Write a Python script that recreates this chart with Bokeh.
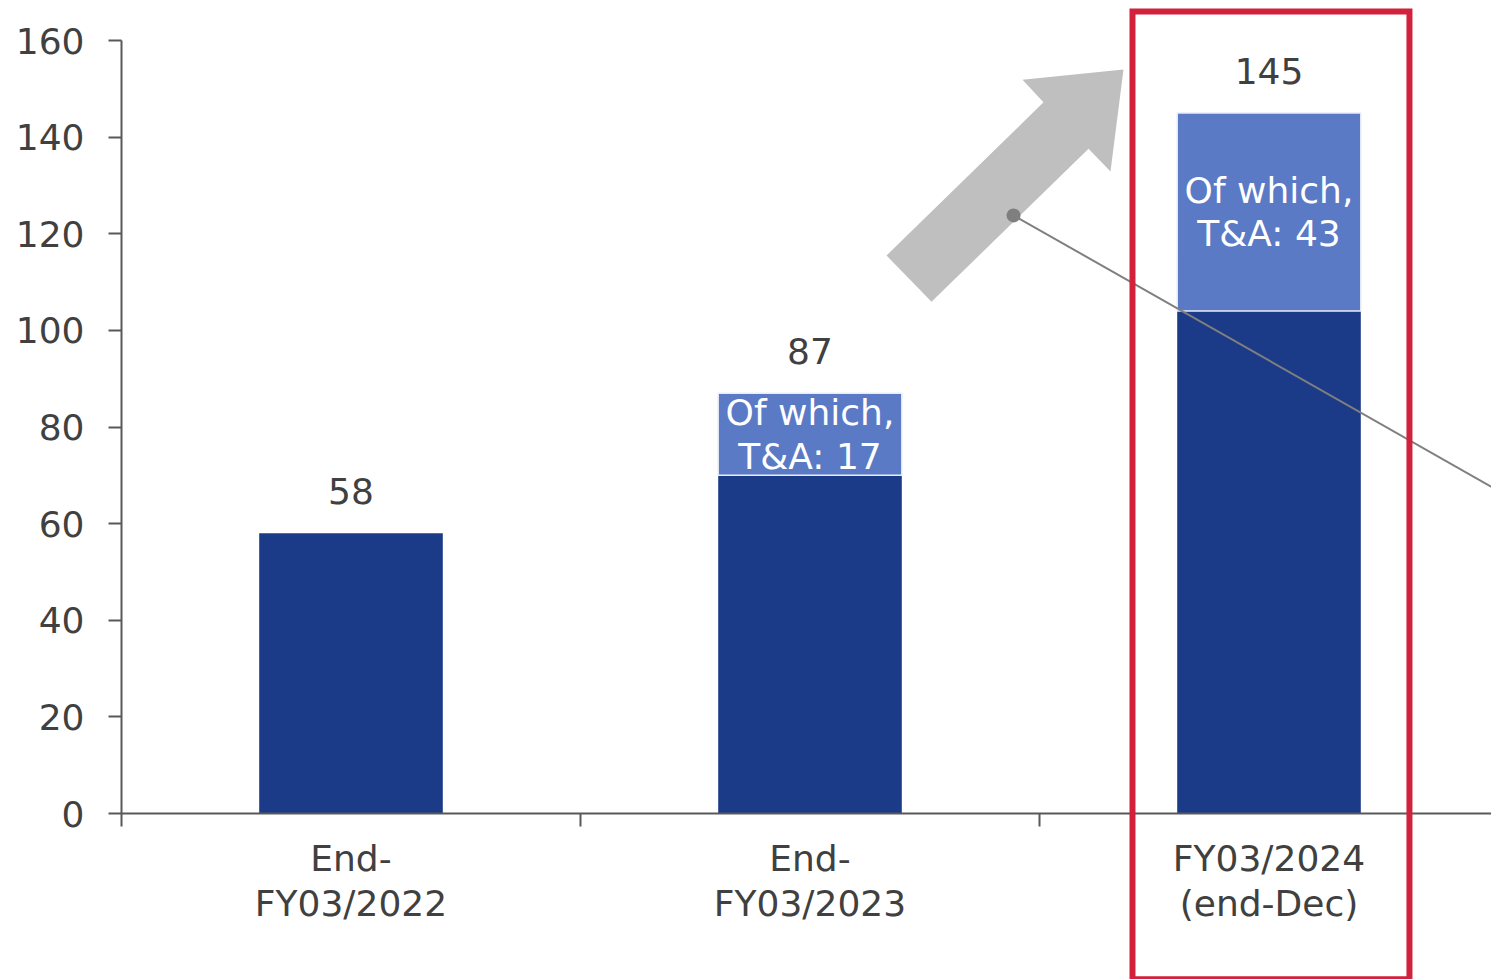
from bokeh.plotting import figure
from bokeh.models import Range1d, FixedTicker
from bokeh.core.properties import value
from bokeh.embed import file_html
from bokeh.resources import INLINE

# ---- data ----
categories = ["End-\nFY03/2022", "End-\nFY03/2023", "FY03/2024\n(end-Dec)"]
base_values = [58, 70, 104]        # headcount excluding T&A
total_values = [58, 87, 145]       # total headcount
ta_labels = [None, 17, 43]         # of which, T&A
y_ticks = [0, 20, 40, 60, 80, 100, 120, 140, 160]

# decorative arrow outline (data units)
arrow_x = [1.6667, 2.0087, 1.9630, 2.1830, 2.1547, 2.1068, 1.7647]
arrow_y = [115.5, 147.2, 151.9, 154.0, 132.9, 137.6, 105.9]
connector_x = [1.9434, 3.2]
connector_y = [123.8, 56.0]
# highlight box around the last category (data units)
box_left, box_right, box_top, box_bottom = [2.2026], [2.806], [166.0], [-34.3]

FONT = "DejaVu Sans"
DARK = "#1B3A87"
LIGHT = "#5A7AC6"
TXT = "#404040"
AX = "#595959"

centers = [i + 0.5 for i in range(len(categories))]

p = figure(width=1491, height=979, output_backend="svg", toolbar_location=None,
           x_range=Range1d(0, 1370 / 459), y_range=Range1d(0, 160),
           min_border_left=121, min_border_right=0, min_border_top=40, min_border_bottom=166)
p.outline_line_color = None
p.grid.visible = False
p.background_fill_color = "white"
p.border_fill_color = "white"

# arrow (behind)
p.patch(arrow_x, arrow_y, fill_color="#BFBFBF", line_color=None)

# bars
p.vbar(x=centers, width=0.4, bottom=0, top=base_values, fill_color=DARK, line_color=None)
ta_idx = [i for i, v in enumerate(ta_labels) if v is not None]
p.vbar(x=[centers[i] for i in ta_idx], width=0.4,
       bottom=[base_values[i] for i in ta_idx], top=[total_values[i] for i in ta_idx],
       fill_color=LIGHT, line_color="#E8ECF6", line_width=1.5)

# total labels
p.text(x=centers, y=total_values, text=[str(v) for v in total_values],
       text_font=value(FONT), text_font_size="36px", text_color=TXT,
       text_align="center", text_baseline="alphabetic", y_offset=-42)

# inner labels
p.text(x=[centers[i] for i in ta_idx],
       y=[(base_values[i] + total_values[i]) / 2 for i in ta_idx],
       text=[f"Of which,\nT&A: {ta_labels[i]}" for i in ta_idx],
       text_font=value(FONT), text_font_size="36px", text_color="white",
       text_align="center", text_baseline="middle", text_line_height=1.07)

# connector line with dot
p.line(connector_x, connector_y, line_color="#7F7F7F", line_width=2)
p.scatter([connector_x[0]], [connector_y[0]], size=14, fill_color="#7F7F7F", line_color=None)

# red highlight box (overlay level so it is not clipped to the frame)
p.quad(left=box_left, right=box_right, top=box_top, bottom=box_bottom,
       fill_color=None, line_color="#D2213D", line_width=6, line_join="miter",
       level="overlay")

# axes
xa = p.xaxis[0]
xa.ticker = FixedTicker(ticks=centers, minor_ticks=[0, 1, 2, 3])
xa.major_label_overrides = {c: lab for c, lab in zip(centers, categories)}
xa.major_tick_line_color = None
xa.minor_tick_out = 13
xa.minor_tick_in = 0
xa.minor_tick_line_color = AX
xa.minor_tick_line_width = 2
xa.axis_line_color = AX
xa.axis_line_width = 2
xa.major_label_text_font = FONT
xa.major_label_text_font_size = "36px"
xa.major_label_text_color = TXT
xa.major_label_text_line_height = 1.12
xa.major_label_standoff = 11

ya = p.yaxis[0]
ya.ticker = FixedTicker(ticks=y_ticks)
ya.bounds = (0, 160)
ya.major_tick_out = 13
ya.major_tick_in = 0
ya.minor_tick_line_color = None
ya.major_tick_line_color = AX
ya.major_tick_line_width = 2
ya.axis_line_color = AX
ya.axis_line_width = 2
ya.major_label_text_font = FONT
ya.major_label_text_font_size = "36px"
ya.major_label_text_color = TXT
ya.major_label_standoff = 24

open("out.html", "w").write(file_html(p, INLINE))
